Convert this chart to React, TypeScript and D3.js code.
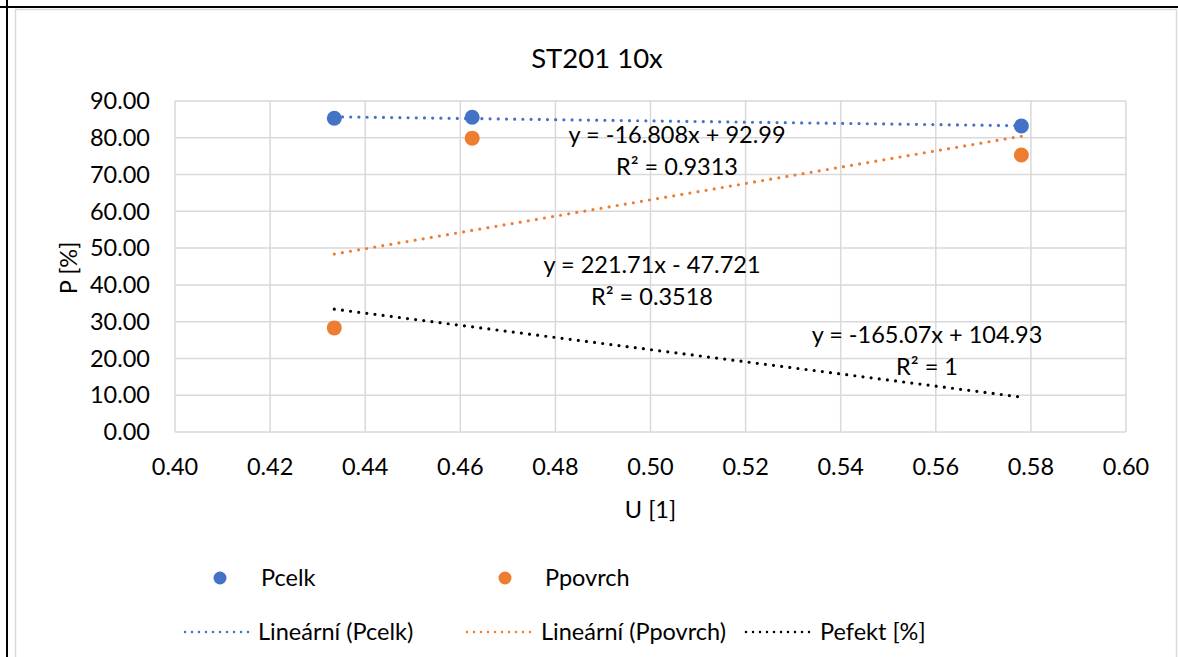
import React from "react";
import * as d3 from "d3";

// naměřené hodnoty
const uValues = [0.4335, 0.4625, 0.578];
const pCelk = [85.3, 85.6, 83.2];
const pPovrch = [28.3, 79.9, 75.3];
const pEfekt = [33.4, 28.6, 9.5];

// spojnice trendu (Pcelk, Ppovrch, Pefekt)
const trendSlopes = [-16.808, 221.71, -165.07];
const trendIntercepts = [92.99, -47.721, 104.93];
const trendR2 = ["0.9313", "0.3518", "1"];

const xDomain = [0.4, 0.6];
const yDomain = [0, 90];

const BLUE = "#4472C4";
const ORANGE = "#ED7D31";
const BLACK = "#000000";
const GRID = "#d9d9d9";
const FONT = "Lato, 'Open Sans', sans-serif";

const W = 1178;
const H = 657;

const eqText = (i: number) =>
    `y = ${trendSlopes[i]}x ${trendIntercepts[i] < 0 ? "-" : "+"} ${Math.abs(trendIntercepts[i])}`;

export default function App() {
    const x = d3.scaleLinear().domain(xDomain).range([175, 1126]);
    const y = d3.scaleLinear().domain(yDomain).range([432, 101]);
    const xTicks = x.ticks(10);
    const yTicks = y.ticks(10);
    const fmt = d3.format(".2f");

    const line = d3.line<[number, number]>().x(d => x(d[0])).y(d => y(d[1]));
    const [uMin, uMax] = d3.extent(uValues) as [number, number];
    const trend = (i: number) =>
        line([uMin, uMax].map(u => [u, trendSlopes[i] * u + trendIntercepts[i]] as [number, number])) || "";
    const efektPath = line(uValues.map((u, i) => [u, pEfekt[i]] as [number, number])) || "";

    const dotted = (color: string) => ({
        stroke: color,
        strokeWidth: 3.2,
        strokeDasharray: "0 8.2",
        strokeLinecap: "round" as const,
        fill: "none",
    });

    const eqPos = [
        { cx: 677, cy: 143 },
        { cx: 652, cy: 273 },
        { cx: 927, cy: 343 },
    ];

    return (
        <svg width={W} height={H} style={{ position: "absolute", left: 0, top: 0, background: "#fff" }}
            fontFamily={FONT}>
            {/* okraje buňky */}
            <line x1={0} x2={W} y1={7} y2={7} stroke="#000" strokeWidth={2} />
            <line x1={7} x2={7} y1={0} y2={H} stroke="#000" strokeWidth={2} />
            {/* rámeček grafu */}
            <rect x={15.5} y={9.5} width={1161} height={H} fill="#fff" stroke={GRID} strokeWidth={1.5} />

            <text x={597} y={68} textAnchor="middle" fontSize={27.5} fill="#000">ST201 10x</text>

            {/* mřížka */}
            <g>
                {xTicks.map(t => (
                    <line key={"gx" + t} x1={x(t)} x2={x(t)} y1={y(90)} y2={y(0)} stroke={GRID} strokeWidth={1.5} />
                ))}
                {yTicks.map(t => (
                    <line key={"gy" + t} x1={x(0.4)} x2={x(0.6)} y1={y(t)} y2={y(t)} stroke={GRID} strokeWidth={1.5} />
                ))}
            </g>

            {/* popisky os */}
            <g fontSize={23.5} fill="#000">
                {yTicks.map(t => (
                    <text key={"ty" + t} x={150} y={y(t)} dy="0.35em" textAnchor="end">{fmt(t)}</text>
                ))}
                {xTicks.map(t => (
                    <text key={"tx" + t} x={x(t)} y={475} textAnchor="middle">{fmt(t)}</text>
                ))}
                <text x={x(0.5)} y={518} textAnchor="middle">U [1]</text>
                <text transform="translate(77,268) rotate(-90)" textAnchor="middle">P [%]</text>
            </g>

            {/* spojnice trendu */}
            <path d={trend(0)} {...dotted(BLUE)} />
            <path d={trend(1)} {...dotted(ORANGE)} />
            <path d={efektPath} {...dotted(BLACK)} />

            {/* body */}
            {uValues.map((u, i) => (
                <circle key={"c" + i} cx={x(u)} cy={y(pCelk[i])} r={7.5} fill={BLUE} />
            ))}
            {uValues.map((u, i) => (
                <circle key={"p" + i} cx={x(u)} cy={y(pPovrch[i])} r={7.5} fill={ORANGE} />
            ))}

            {/* rovnice */}
            <g fontSize={23.5} fill="#000" textAnchor="middle">
                {eqPos.map((p, i) => (
                    <g key={"eq" + i}>
                        <text x={p.cx} y={p.cy}>{eqText(i)}</text>
                        <text x={p.cx} y={p.cy + 32}>R² = {trendR2[i]}</text>
                    </g>
                ))}
            </g>

            {/* legenda */}
            <g fontSize={23.5} fill="#000">
                <circle cx={220} cy={578} r={6.5} fill={BLUE} />
                <text x={261} y={578} dy="0.35em">Pcelk</text>
                <circle cx={505} cy={578} r={6.5} fill={ORANGE} />
                <text x={545} y={578} dy="0.35em">Ppovrch</text>

                <line x1={185} x2={253} y1={632} y2={632} {...dotted(BLUE)} strokeWidth={2.5} strokeDasharray="0 7" />
                <text x={258} y={632} dy="0.35em">Lineární (Pcelk)</text>
                <line x1={467} x2={535} y1={632} y2={632} {...dotted(ORANGE)} strokeWidth={2.5} strokeDasharray="0 7" />
                <text x={541} y={632} dy="0.35em">Lineární (Ppovrch)</text>
                <line x1={746} x2={814} y1={632} y2={632} {...dotted(BLACK)} strokeWidth={2.5} strokeDasharray="0 7" />
                <text x={820} y={632} dy="0.35em">Pefekt [%]</text>
            </g>
        </svg>
    );
}
